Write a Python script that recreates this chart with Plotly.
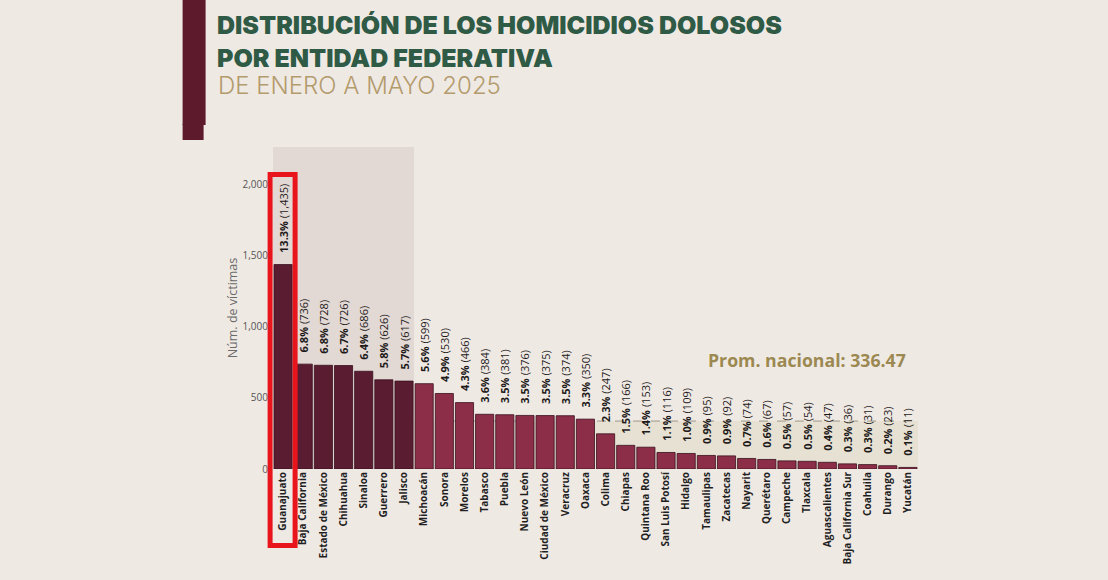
import plotly.graph_objects as go

# ---------------- data ----------------
estados = ["Guanajuato", "Baja California", "Estado de México", "Chihuahua", "Sinaloa",
           "Guerrero", "Jalisco", "Michoacán", "Sonora", "Morelos", "Tabasco", "Puebla",
           "Nuevo León", "Ciudad de México", "Veracruz", "Oaxaca", "Colima", "Chiapas",
           "Quintana Roo", "San Luis Potosí", "Hidalgo", "Tamaulipas", "Zacatecas",
           "Nayarit", "Querétaro", "Campeche", "Tlaxcala", "Aguascalientes",
           "Baja California Sur", "Coahuila", "Durango", "Yucatán"]
victimas = [1435, 736, 728, 726, 686, 626, 617, 599, 530, 466, 384, 381, 376, 375, 374,
            350, 247, 166, 153, 116, 109, 95, 92, 74, 67, 57, 54, 47, 36, 31, 23, 11]
porcentaje = [13.3, 6.8, 6.8, 6.7, 6.4, 5.8, 5.7, 5.6, 4.9, 4.3, 3.6, 3.5, 3.5, 3.5, 3.5,
              3.3, 2.3, 1.5, 1.4, 1.1, 1.0, 0.9, 0.9, 0.7, 0.6, 0.5, 0.5, 0.4, 0.3, 0.3,
              0.2, 0.1]
promedio_nacional = 336.47
y_ticks = [0, 500, 1000, 1500, 2000]
n_top = 7  # highlighted group

# ---------------- layout geometry ----------------
W, H = 1108, 580
PL, PR = 273.4, 918.4   # plot area left/right px
PT, PB = 147, 469       # plot area top/bottom px
YMAX = 2260


def px(x):
    return (x - PL) / (PR - PL)


def py(y):
    return (PB - y) / (PB - PT)


DARK = "#5a1c30"
LIGHT = "#8d2e48"
colors = [DARK if i < n_top else LIGHT for i in range(len(estados))]
PAD = "\u00a0\u00a0\u00a0"
labels = [f"{PAD}<b>{p:.1f}%</b> ({v:,})" for p, v in zip(porcentaje, victimas)]

fig = go.Figure()
fig.add_trace(go.Bar(
    x=estados, y=victimas,
    marker=dict(color=colors, line=dict(color="#3a0f1e", width=0.8)),
    text=labels, textposition="outside", textangle=-90,
    outsidetextfont=dict(family="Open Sans", size=11, color="#1e1a1a"),
    constraintext="none", cliponaxis=False,
    hoverinfo="x+y",
))

shapes = [
    # band below national average
    dict(type="rect", xref="paper", yref="y", x0=0, x1=1, y0=0, y1=promedio_nacional,
         fillcolor="#e6e1d3", line=dict(width=0), layer="below"),
    # highlighted top group background
    dict(type="rect", xref="x", yref="y", x0=-0.5, x1=n_top - 0.5, y0=0, y1=YMAX,
         fillcolor="#e2d8d4", line=dict(width=0), layer="below"),
    # national average dashed line
    dict(type="line", xref="paper", yref="y", x0=0, x1=1, y0=promedio_nacional,
         y1=promedio_nacional, line=dict(color="#9d9889", width=1, dash="dash"),
         layer="below"),
    # decorative maroon bar at top-left
    dict(type="rect", xref="paper", yref="paper", x0=px(183), x1=px(206), y0=py(-2),
         y1=py(125), fillcolor="#5e1a2d", line=dict(width=0)),
    dict(type="rect", xref="paper", yref="paper", x0=px(183), x1=px(204), y0=py(124),
         y1=py(140), fillcolor="#5e1a2d", line=dict(width=0)),
    # red highlight box
    dict(type="rect", xref="paper", yref="paper", x0=px(270.5), x1=px(295.5),
         y0=py(545.5), y1=py(174.5), fillcolor="rgba(0,0,0,0)",
         line=dict(color="#e8161c", width=5), layer="above"),
]

annotations = [
    dict(text="DISTRIBUCIÓN DE LOS HOMICIDIOS DOLOSOS", xref="paper", yref="paper",
         x=px(215), y=py(8), xanchor="left", yanchor="top", showarrow=False,
         font=dict(family="Inter", size=25, color="#2f5a45", weight=900)),
    dict(text="POR ENTIDAD FEDERATIVA", xref="paper", yref="paper",
         x=px(215), y=py(41), xanchor="left", yanchor="top", showarrow=False,
         font=dict(family="Inter", size=25, color="#2f5a45", weight=900)),
    dict(text="DE ENERO A MAYO 2025", xref="paper", yref="paper",
         x=px(216), y=py(69), xanchor="left", yanchor="top", showarrow=False,
         font=dict(family="Inter", size=24, color="#b39b6c", weight=300)),
    dict(text="<b>Prom. nacional: 336.47</b>", xref="paper", yref="paper",
         x=px(908), y=py(360), xanchor="right", yanchor="middle", showarrow=False,
         font=dict(family="Open Sans", size=17.7, color="#9c8952")),
]

fig.update_layout(
    width=W, height=H,
    margin=dict(l=PL, r=W - PR, t=PT, b=H - PB, pad=0),
    paper_bgcolor="#efe9e4", plot_bgcolor="rgba(0,0,0,0)",
    showlegend=False, bargap=0.1,
    shapes=shapes, annotations=annotations,
    xaxis=dict(range=[-0.5, len(estados) - 0.5], tickangle=-90, showgrid=False,
               zeroline=False, showline=False, ticks="",
               tickfont=dict(family="Open Sans", size=10, color="#1f1f1f", weight="bold")),
    yaxis=dict(range=[0, YMAX], tickvals=y_ticks, tickformat=",", showgrid=False,
               zeroline=False, showline=False, ticks="", ticklabelstandoff=4,
               tickfont=dict(family="Open Sans", size=10, color="#555555"),
               title=dict(text="Núm. de víctimas", standoff=2,
                          font=dict(family="Open Sans", size=12.5, color="#6a6a6a"))),
)

fig.write_html("out.html")
